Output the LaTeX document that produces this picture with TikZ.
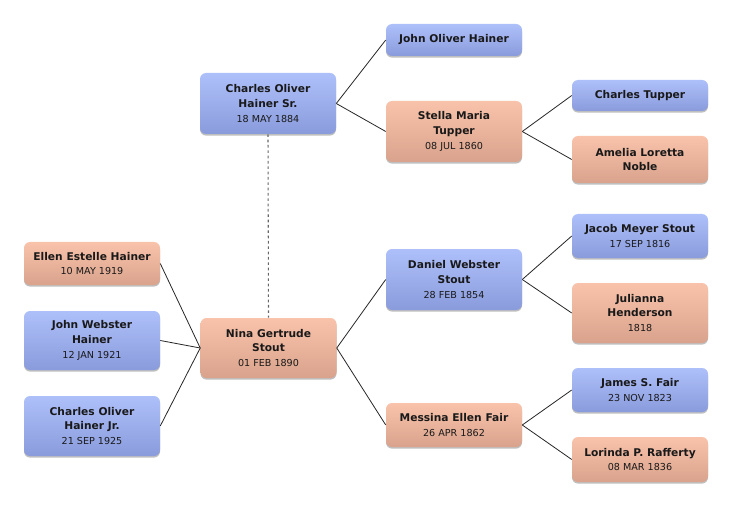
\documentclass[tikz,border=0pt]{standalone}
\usepackage{fontspec}
\setmainfont{DejaVu Sans}
\usetikzlibrary{shadows}
\definecolor{bluetop}{RGB}{174,192,250}
\definecolor{bluebot}{RGB}{138,155,220}
\definecolor{pinktop}{RGB}{249,195,171}
\definecolor{pinkbot}{RGB}{216,162,140}
\newcommand\dt[1]{{\fontsize{7.2}{10}\selectfont\mdseries #1}}
\tikzset{
  person/.style={rounded corners=4.5pt, minimum width=102pt, inner sep=0pt, align=center,
    font=\fontsize{8}{11}\selectfont\bfseries, text=black!90,
    drop shadow={shadow xshift=0pt, shadow yshift=-1.2pt, opacity=0.25, fill=black}},
  male/.style={person, top color=bluetop, bottom color=bluebot},
  female/.style={person, top color=pinktop, bottom color=pinkbot},
  link/.style={draw=black!85, line width=0.6pt},
  spouse/.style={draw=black!60, line width=0.8pt, dash pattern=on 2pt off 2pt}
}
\begin{document}
\begin{tikzpicture}[x=0.75pt,y=-0.75pt]
\useasboundingbox (0,0) rectangle (732,506);
\node[male, minimum height=61*0.75pt] (csr) at (268,103.5) {Charles Oliver\\Hainer Sr.\\\dt{18 MAY 1884}};
\node[male, minimum height=32*0.75pt] (joh) at (454,40) {John Oliver Hainer};
\node[female, minimum height=61*0.75pt] (smt) at (454,131.5) {Stella Maria\\Tupper\\\dt{08 JUL 1860}};
\node[male, minimum height=31*0.75pt] (ct) at (640,95.5) {Charles Tupper};
\node[female, minimum height=47*0.75pt] (aln) at (640,159.5) {Amelia Loretta\\Noble};
\node[female, minimum height=43*0.75pt] (ellen) at (92,263.5) {Ellen Estelle Hainer\\\dt{10 MAY 1919}};
\node[male, minimum height=59*0.75pt] (jwh) at (92,340.5) {John Webster\\Hainer\\\dt{12 JAN 1921}};
\node[male, minimum height=60*0.75pt] (cjr) at (92,426) {Charles Oliver\\Hainer Jr.\\\dt{21 SEP 1925}};
\node[female, minimum height=60*0.75pt] (nina) at (268.5,348) {Nina Gertrude\\Stout\\\dt{01 FEB 1890}};
\node[male, minimum height=61*0.75pt] (dws) at (454,279.5) {Daniel Webster\\Stout\\\dt{28 FEB 1854}};
\node[female, minimum height=44*0.75pt] (mef) at (454,425) {Messina Ellen Fair\\\dt{26 APR 1862}};
\node[male, minimum height=44*0.75pt] (jms) at (640,236) {Jacob Meyer Stout\\\dt{17 SEP 1816}};
\node[female, minimum height=60*0.75pt] (jh) at (640,313) {Julianna\\Henderson\\\dt{1818}};
\node[male, minimum height=44*0.75pt] (jsf) at (640,390) {James S. Fair\\\dt{23 NOV 1823}};
\node[female, minimum height=45*0.75pt] (lpr) at (640,459.5) {Lorinda P. Rafferty\\\dt{08 MAR 1836}};
\draw[link] (csr.east) -- (joh.west);
\draw[link] (csr.east) -- (smt.west);
\draw[link] (smt.east) -- (ct.west);
\draw[link] (smt.east) -- (aln.west);
\draw[link] (nina.east) -- (dws.west);
\draw[link] (nina.east) -- (mef.west);
\draw[link] (dws.east) -- (jms.west);
\draw[link] (dws.east) -- (jh.west);
\draw[link] (mef.east) -- (jsf.west);
\draw[link] (mef.east) -- (lpr.west);
\draw[link] (ellen.east) -- (nina.west);
\draw[link] (jwh.east) -- (nina.west);
\draw[link] (cjr.east) -- (nina.west);
\draw[spouse] (csr.south) -- (nina.north);
\end{tikzpicture}
\end{document}
